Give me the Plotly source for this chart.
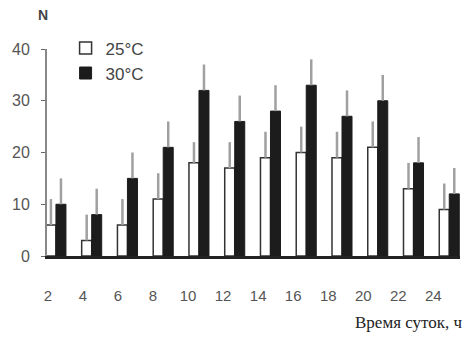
import plotly.graph_objects as go

hours = [2, 4, 6, 8, 10, 12, 14, 16, 18, 20, 22, 24]
tick_labels = [str(h) for h in hours]
n_25 = [6, 3, 6, 11, 18, 17, 19, 20, 19, 21, 13, 9]
err_25 = [5, 5, 5, 5, 4, 5, 5, 5, 5, 5, 5, 5]
n_30 = [10, 8, 15, 21, 32, 26, 28, 33, 27, 30, 18, 12]
err_30 = [5, 5, 5, 5, 5, 5, 5, 5, 5, 5, 5, 5]
y_ticks = [0, 10, 20, 30, 40]

tick_pos = [h * 0.98 - 0.41 for h in hours]

fig = go.Figure()
fig.add_trace(go.Bar(
    x=hours, y=n_25, name="25°C",
    marker=dict(color="white", line=dict(color="#333333", width=1.5)),
    error_y=dict(type="data", array=err_25, symmetric=False, arrayminus=[0]*12,
                 color="#a0a0a0", thickness=2.5, width=0),
))
fig.add_trace(go.Bar(
    x=hours, y=n_30, name="30°C",
    marker=dict(color="#1c1c1c", line=dict(color="#1c1c1c", width=1)),
    error_y=dict(type="data", array=err_30, symmetric=False, arrayminus=[0]*12,
                 color="#a0a0a0", thickness=2.5, width=0),
))

fig.update_layout(
    width=464, height=346,
    margin=dict(l=47, r=4, t=49, b=90),
    plot_bgcolor="white", paper_bgcolor="white",
    barmode="group", bargap=0.44, bargroupgap=0,
    font=dict(family="Liberation Sans, Arial, sans-serif", size=14, color="#444444"),
    showlegend=True,
    legend=dict(x=0.045, y=1.09, xanchor="left", yanchor="top",
                font=dict(size=17, color="#444444"),
                bgcolor="rgba(0,0,0,0)", itemwidth=30, tracegroupgap=0),
    xaxis=dict(range=[1.5, 24.6], tickmode="array", tickvals=tick_pos, ticktext=tick_labels,
               showline=True, linecolor="#222222", linewidth=2.5, ticks="",
               showgrid=False, zeroline=False, ticklabelstandoff=24,
               tickfont=dict(size=15, color="#555555")),
    yaxis=dict(range=[0, 40], tickmode="array", tickvals=y_ticks,
               showline=True, linecolor="#888888", linewidth=2, ticks="outside",
               ticklen=4, tickcolor="#666666", showgrid=False, zeroline=False,
               tickfont=dict(size=16, color="#555555"), ticklabelstandoff=8),
    annotations=[
        dict(text="<b>N</b>", x=-4 / 413, xref="paper", xanchor="center",
             y=1 + 34 / 207, yref="paper", yanchor="middle", showarrow=False,
             font=dict(size=14, color="#444444")),
        dict(text="Время суток, ч", x=1.0, xref="paper", xanchor="right", xshift=4,
             y=-66 / 207, yref="paper", yanchor="middle", showarrow=False,
             font=dict(family="Liberation Serif, Times New Roman, serif", size=17,
                       color="#222222")),
    ],
)

fig.write_html("out.html", config={"displayModeBar": False},
               post_script="document.body.style.margin='0';document.body.style.overflow='hidden';")
